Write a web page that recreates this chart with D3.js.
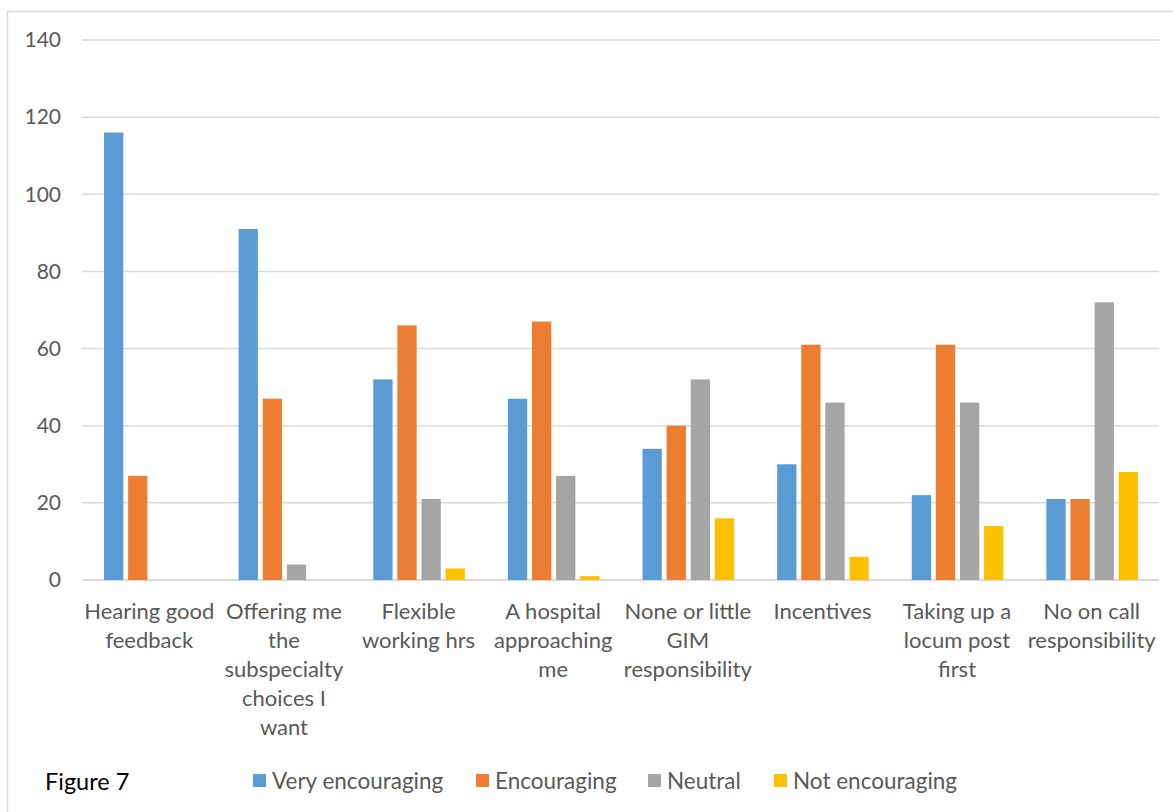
<!DOCTYPE html>
<html>
<head>
<meta charset="utf-8">
<script src="https://cdn.jsdelivr.net/npm/d3@7"></script>
<style>
  html, body { margin: 0; padding: 0; background: #fff; }
  svg { display: block; }
  text { font-family: Lato, "Open Sans", sans-serif; }
</style>
</head>
<body>
<svg id="chart" width="1173" height="812"></svg>
<script>
// Survey responses: what would encourage applying for a consultant post
const categories = [
  ["Hearing good", "feedback"],
  ["Offering me", "the", "subspecialty", "choices I", "want"],
  ["Flexible", "working hrs"],
  ["A hospital", "approaching", "me"],
  ["None or little", "GIM", "responsibility"],
  ["Incentives"],
  ["Taking up a", "locum post", "first"],
  ["No on call", "responsibility"]
];
const seriesNames = ["Very encouraging", "Encouraging", "Neutral", "Not encouraging"];
const seriesColors = ["#5b9bd5", "#ed7d31", "#a5a5a5", "#ffc000"];
const veryEncouraging = [116, 91, 52, 47, 34, 30, 22, 21];
const encouraging     = [27, 47, 66, 67, 40, 61, 61, 21];
const neutral         = [0, 4, 21, 27, 52, 46, 46, 72];
const notEncouraging  = [0, 0, 3, 1, 16, 6, 14, 28];
const yTicks = [0, 20, 40, 60, 80, 100, 120, 140];

const seriesValues = [veryEncouraging, encouraging, neutral, notEncouraging];

const svg = d3.select("#chart");

// chart area frame
svg.append("rect")
  .attr("x", 7.5).attr("y", 11.5)
  .attr("width", 1200).attr("height", 900)
  .attr("fill", "#fff")
  .attr("stroke", "#d9d9d9").attr("stroke-width", 1.5);

const plot = { left: 82, right: 1159, top: 40, bottom: 580 };

const x0 = d3.scaleBand()
  .domain(d3.range(categories.length))
  .range([plot.left, plot.right])
  .padding(0);

const x1 = d3.scaleBand()
  .domain(d3.range(seriesNames.length))
  .range([22, x0.bandwidth() - 21])
  .paddingInner(0.2);

const y = d3.scaleLinear().domain([0, 140]).range([plot.bottom, plot.top]);

// gridlines
svg.append("g")
  .selectAll("line")
  .data(yTicks)
  .join("line")
  .attr("x1", plot.left).attr("x2", plot.right)
  .attr("y1", d => y(d)).attr("y2", d => y(d))
  .attr("stroke", "#d9d9d9")
  .attr("stroke-width", d => d === 0 ? 2 : 1.5);

// y-axis labels
const yAxis = d3.axisLeft(y).tickValues(yTicks).tickSize(0).tickPadding(0);
const yg = svg.append("g").attr("transform", `translate(61,0)`).call(yAxis);
yg.select(".domain").remove();
yg.selectAll("text")
  .attr("fill", "#595959")
  .attr("font-size", 21)
  .attr("font-family", "Lato, 'Open Sans', sans-serif");

// bars
const groups = svg.append("g")
  .selectAll("g")
  .data(categories.map((c, i) => i))
  .join("g")
  .attr("transform", i => `translate(${x0(i)},0)`);

groups.selectAll("rect")
  .data(i => seriesValues.map((vals, s) => ({ s, v: vals[i] })))
  .join("rect")
  .attr("x", d => x1(d.s))
  .attr("width", x1.bandwidth())
  .attr("y", d => y(d.v))
  .attr("height", d => y(0) - y(d.v))
  .attr("fill", d => seriesColors[d.s]);

// category labels
const xLabels = svg.append("g")
  .selectAll("text")
  .data(categories)
  .join("text")
  .attr("x", (d, i) => x0(i) + x0.bandwidth() / 2)
  .attr("y", 619)
  .attr("text-anchor", "middle")
  .attr("fill", "#595959")
  .attr("font-size", 22);

xLabels.selectAll("tspan")
  .data(d => d)
  .join("tspan")
  .attr("x", function () { return this.parentNode.getAttribute("x"); })
  .attr("dy", (d, j) => j === 0 ? 0 : 29)
  .text(d => d);

// figure caption
svg.append("text")
  .attr("x", 45).attr("y", 790)
  .attr("fill", "#000")
  .attr("font-size", 23.5)
  .text("Figure 7");

// legend
const legendX = [253, 476, 648, 774];
const legend = svg.append("g")
  .selectAll("g")
  .data(seriesNames)
  .join("g")
  .attr("transform", (d, i) => `translate(${legendX[i]},774)`);

legend.append("rect")
  .attr("width", 13).attr("height", 13)
  .attr("fill", (d, i) => seriesColors[i]);

legend.append("text")
  .attr("x", 19).attr("y", 14.5)
  .attr("fill", "#595959")
  .attr("font-size", 22.5)
  .text(d => d);
</script>
</body>
</html>
